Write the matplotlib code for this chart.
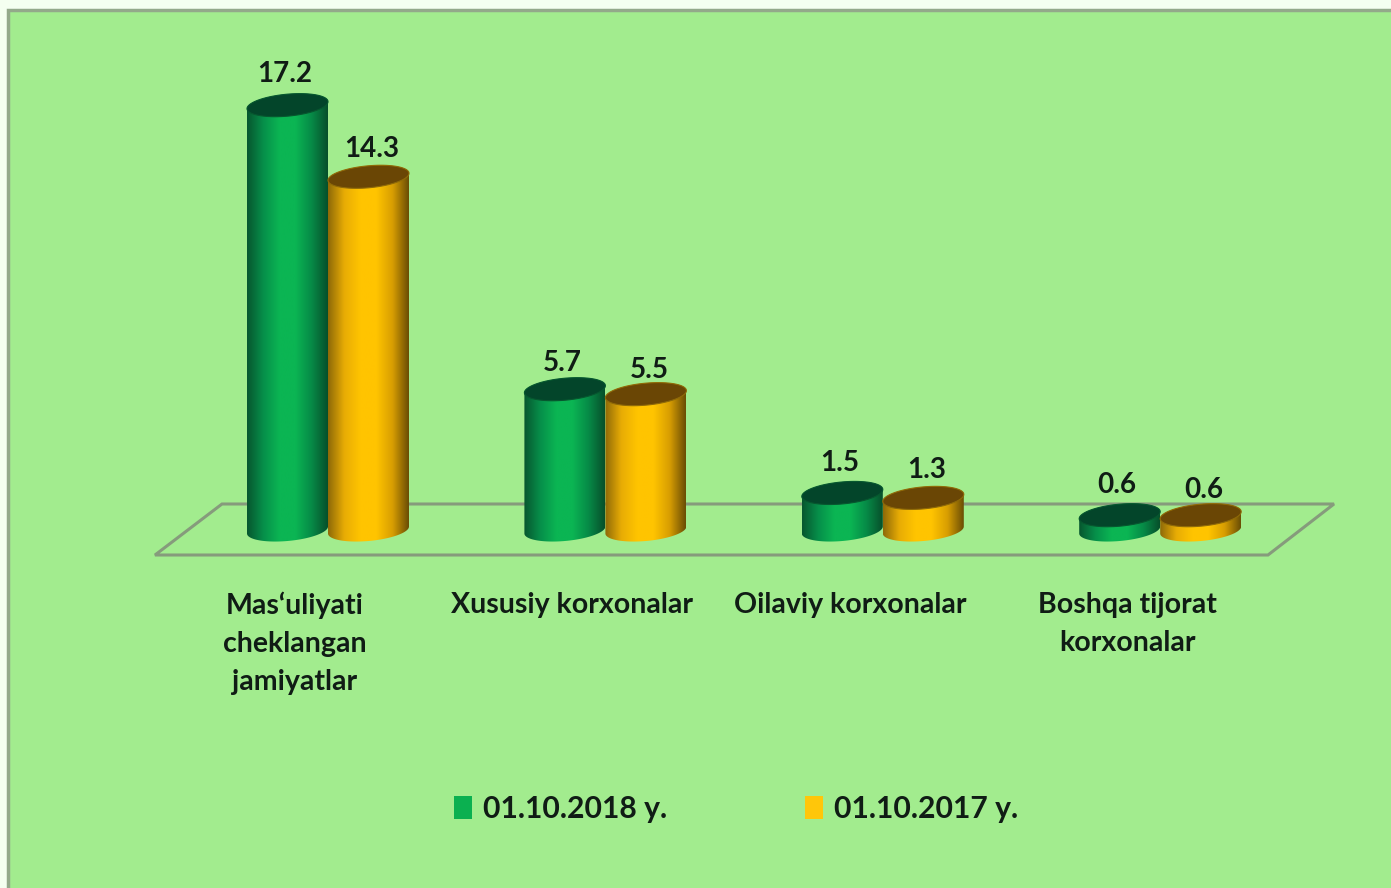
import numpy as np
from matplotlib import pyplot as plt
from matplotlib.patches import Polygon, Rectangle
from matplotlib.colors import LinearSegmentedColormap

categories = ["Mas\u2018uliyati\ncheklangan\njamiyatlar", "Xususiy korxonalar", "Oilaviy korxonalar", "Boshqa tijorat\nkorxonalar"]
series_names = ["01.10.2018 y.", "01.10.2017 y."]
values_2018 = [17.2, 5.7, 1.5, 0.6]
values_2017 = [14.3, 5.5, 1.3, 0.6]

# Picture size and the scale of the chart, in pixels
W, H = 1391, 888
x_step = 277.4
y_step = 24.7
x_origin = 328
y_origin = 530

# Label gap above each bar, in pixels
gap_2018 = [31, 26, 30, 30]
gap_2017 = [28, 24, 28, 25]

plt.rcParams['font.family'] = ['Lato', 'DejaVu Sans']
plt.rcParams['font.weight'] = 'bold'

fig = plt.figure(figsize=(W / 100, H / 100), dpi=100, facecolor='#f4fff0')
fig.add_artist(Rectangle((8 / W, -0.01), 1.01, 1 - 10 / H + 0.01, transform=fig.transFigure,
                         facecolor='#a2ec8e', edgecolor='#93a98a', linewidth=2.5, zorder=-1))

ax = fig.add_axes([0, 0, 1, 1])
ax.patch.set_alpha(0)
ax.axis('off')
x_limits = (-x_origin / x_step, (W - x_origin) / x_step)
y_limits = ((y_origin - H) / y_step, y_origin / y_step)

# Floor of the 3d chart
floor_px = [(155, 555), (222, 504), (1334, 504), (1268, 555)]
floor = [((px - x_origin) / x_step, (y_origin - py) / y_step) for px, py in floor_px]
ax.add_patch(Polygon(floor, closed=True, fill=False, edgecolor='#869b7c', linewidth=2.2, zorder=1))


def draw_cylinder(center, value, side_colors, top_color, zorder):
    half_w = 40.5 / x_step
    half_h = 11 / y_step
    tilt = 3.5 / y_step
    t = np.linspace(0, 2 * np.pi, 181)
    ex = center + half_w * np.cos(t)
    ey = half_h * np.sin(t) + tilt * np.cos(t)

    lower = t[:91] + np.pi
    body_x = center + half_w * np.cos(lower)
    body_y = half_h * np.sin(lower) + tilt * np.cos(lower)
    upper = t[:91]
    body_x = np.concatenate([body_x, center + half_w * np.cos(upper)])
    body_y = np.concatenate([body_y, value + half_h * np.sin(upper) + tilt * np.cos(upper)])
    body = Polygon(np.column_stack([body_x, body_y]), closed=True, facecolor='none', edgecolor='none', zorder=zorder)
    ax.add_patch(body)

    cmap = LinearSegmentedColormap.from_list('side', side_colors)
    gradient = np.linspace(0, 1, 200).reshape(1, -1)
    img = ax.imshow(gradient, cmap=cmap, aspect='auto', zorder=zorder, interpolation='bilinear',
                    extent=(center - half_w, center + half_w, -half_h - tilt, value + half_h + tilt))
    img.set_clip_path(body)

    ax.add_patch(Polygon(np.column_stack([ex, value + ey]), closed=True, facecolor=top_color,
                         edgecolor=side_colors[0], linewidth=0.8, zorder=zorder + 0.5))


green_side = ['#07572f', '#068f4a', '#0bb553', '#0bb553', '#068a47', '#07502b']
orange_side = ['#8f6a08', '#e8ac05', '#ffc400', '#ffc400', '#d89e02', '#6b4e05']
green_top = '#03452a'
orange_top = '#6a4605'
bar_shift = 40.5 / x_step

for i in range(len(categories)):
    draw_cylinder(i - bar_shift, values_2018[i], green_side, green_top, 2 + i)
    draw_cylinder(i + bar_shift, values_2017[i], orange_side, orange_top, 3 + i)
    ax.annotate(f'{values_2018[i]}', xy=(i - bar_shift, values_2018[i]), xytext=(-3, gap_2018[i]), textcoords='offset pixels',
                ha='center', va='center', fontsize=20, color='#101c15', zorder=10)
    ax.annotate(f'{values_2017[i]}', xy=(i + bar_shift, values_2017[i]), xytext=(3, gap_2017[i]), textcoords='offset pixels',
                ha='center', va='center', fontsize=20, color='#101c15', zorder=10)
    ax.annotate(categories[i], xy=(i, 0), xytext=(-33, -62), textcoords='offset pixels', ha='center', va='top',
                fontsize=20.5, linespacing=1.56, color='#101c15', zorder=10)

ax.set_xlim(*x_limits)
ax.set_ylim(*y_limits)

handles = [Rectangle((0, 0), 1, 1, facecolor='#0bb050'), Rectangle((0, 0), 1, 1, facecolor='#ffc60a')]
ax.legend(handles, series_names, loc='center', bbox_to_anchor=(736 / W, 1 - 809 / H), ncol=2, frameon=False,
          fontsize=21.7, labelcolor='#101c15', handlelength=0.6, handleheight=0.8, handletextpad=0.36, columnspacing=4.6)

fig.savefig('out.png', dpi=100, facecolor=fig.get_facecolor())
